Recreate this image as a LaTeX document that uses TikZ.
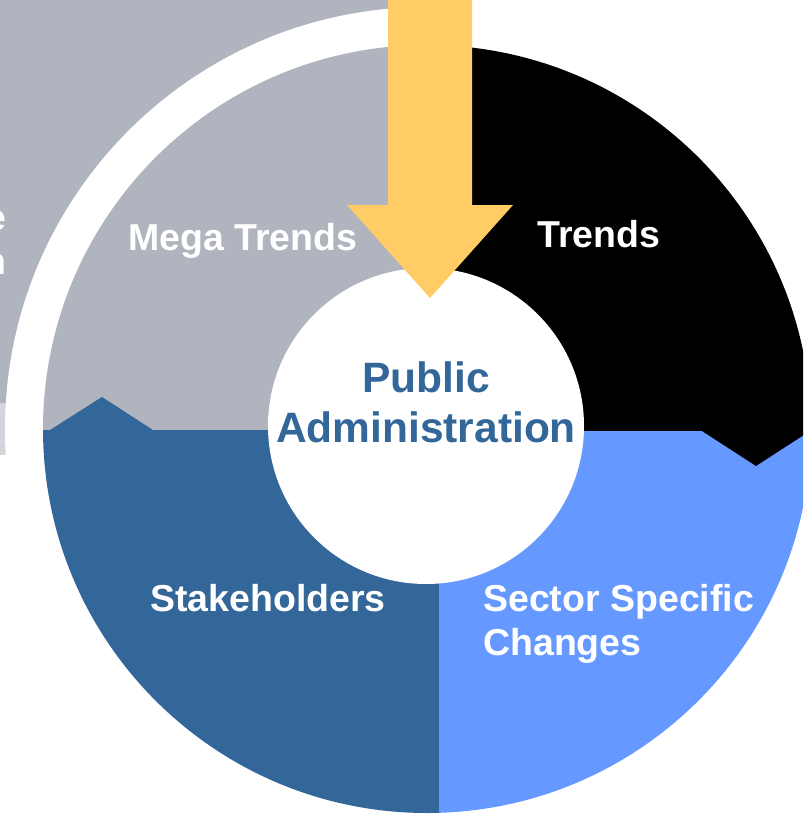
\documentclass[tikz,border=0pt]{standalone}
\usepackage{fontspec}
\setmainfont{Liberation Sans}
\usepackage{tikz}
\definecolor{megagray}{RGB}{176,180,190}
\definecolor{palegray}{RGB}{211,213,219}
\definecolor{stakeblue}{RGB}{51,102,153}
\definecolor{sectorblue}{RGB}{102,153,255}
\definecolor{inputyellow}{RGB}{255,204,102}

\begin{document}
\begin{tikzpicture}[
    x=1pt, y=-1pt,
    segtext/.style={text=white, inner sep=0pt, align=left,
                    font=\bfseries\fontsize{37.5}{44}\selectfont},
    hubtext/.style={text=stakeblue, inner sep=0pt, align=center,
                    font=\bfseries\fontsize{42.5}{50}\selectfont},
    ]
    \useasboundingbox (0,0) rectangle (803,816);
    \clip (0,0) rectangle (803,816);

    % Centres of hub and ring
    \coordinate (hub) at (426,426);
    \coordinate (ring) at (427,429);

    % Grey panel behind the ring
    \fill[megagray] (0,0) rectangle (430,403);
    \fill[palegray] (0,403) rectangle (10,455);
    \node[segtext, align=right, anchor=north east] (cut) at (7,210) {e\\n};

    % White band
    \fill[white] (ring) circle (422);

    % Quarters
    \begin{scope}
        \clip (ring) circle (384);
        \fill[megagray] (0,0) rectangle (427,430);
        \fill[black] (427,0) rectangle (820,431);
        \fill[stakeblue] (0,430) rectangle (439,820);
        \fill[sectorblue] (439,431) rectangle (820,820);
        % Arrow tips between quarters
        \fill[stakeblue] (50,430) -- (102,397) -- (153,430) -- cycle;
        \fill[black] (702,431) -- (756,466) -- (810,431) -- cycle;
    \end{scope}

    % Hub
    \fill[white] (hub) circle (158);

    % Input arrow
    \fill[inputyellow] (388,0) -- (472,0) -- (472,205) -- (513,205)
        -- (430,298) -- (347,205) -- (388,205) -- cycle;

    % Quarter names
    \node[segtext, anchor=base west] (mega) at (128,250) {Mega Trends};
    \node[segtext, anchor=base west] (trends) at (537,247) {Trends};
    \node[segtext, anchor=base west] (stake) at (150,611) {Stakeholders};
    \node[segtext, anchor=north west] (sector) at (483,584) {Sector Specific\\Changes};

    % Hub name
    \node[hubtext] (admin) at (426,402.5) {Public\\Administration};
\end{tikzpicture}
\end{document}
